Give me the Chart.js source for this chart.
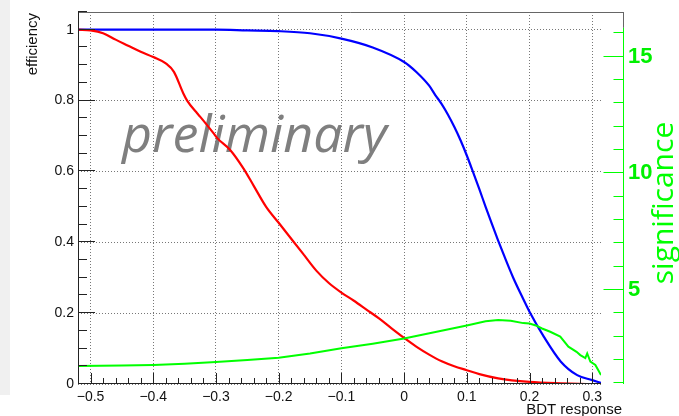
<!DOCTYPE html>
<html>
<head>
<meta charset="utf-8">
<script src="https://cdn.jsdelivr.net/npm/chart.js@4"></script>
<style>
    body { margin: 0; background: #fff; }
    canvas { display: block; }
</style>
</head>
<body>
<canvas id="chart" width="679" height="416"></canvas>
<script>
// tick labels
let xTicks = [-0.5, -0.4, -0.3, -0.2, -0.1, 0, 0.1, 0.2, 0.3];
let yTicks = [0, 0.2, 0.4, 0.6, 0.8, 1];
let sigTicks = [5, 10, 15];

// signal efficiency (blue)
let sigEffX = [-0.52, -0.3, -0.25, -0.2, -0.15, -0.1, -0.05, 0, 0.02, 0.04, 0.05, 0.06, 0.07, 0.08, 0.09, 0.1, 0.11, 0.12, 0.13, 0.14, 0.15, 0.16, 0.174, 0.19, 0.2, 0.223, 0.25, 0.276, 0.3, 0.314];
let sigEff = [1.0, 1.0, 0.998, 0.996, 0.99, 0.975, 0.95, 0.909, 0.88, 0.842, 0.815, 0.79, 0.76, 0.726, 0.688, 0.645, 0.598, 0.55, 0.5, 0.452, 0.405, 0.36, 0.3, 0.24, 0.204, 0.133, 0.063, 0.025, 0.011, 0.003];

// background efficiency (red)
let bkgEffX = [-0.52, -0.5, -0.48, -0.46, -0.44, -0.42, -0.4, -0.38, -0.367, -0.352, -0.346, -0.33, -0.325, -0.304, -0.298, -0.277, -0.256, -0.24, -0.22, -0.2, -0.18, -0.16, -0.14, -0.12, -0.1, -0.08, -0.06, -0.04, -0.02, 0, 0.02, 0.04, 0.06, 0.08, 0.1, 0.12, 0.15, 0.2, 0.25, 0.3, 0.314];
let bkgEff = [1.0, 0.998, 0.99, 0.972, 0.955, 0.938, 0.923, 0.905, 0.881, 0.82, 0.80, 0.764, 0.754, 0.708, 0.694, 0.66, 0.608, 0.56, 0.50, 0.455, 0.41, 0.365, 0.32, 0.285, 0.258, 0.235, 0.21, 0.185, 0.157, 0.13, 0.105, 0.083, 0.064, 0.05, 0.039, 0.028, 0.016, 0.006, 0.002, 0.0, 0.0];

// significance (green, right axis)
let signifX = [-0.52, -0.45, -0.4, -0.35, -0.3, -0.25, -0.2, -0.15, -0.1, -0.05, 0, 0.05, 0.1, 0.13, 0.15, 0.17, 0.19, 0.2, 0.21, 0.22, 0.233, 0.249, 0.262, 0.275, 0.281, 0.289, 0.292, 0.297, 0.305, 0.314];
let signif = [1.74, 1.76, 1.79, 1.84, 1.91, 2.0, 2.1, 2.28, 2.5, 2.7, 2.92, 3.2, 3.48, 3.66, 3.71, 3.68, 3.58, 3.56, 3.48, 3.35, 3.21, 3.0, 2.57, 2.35, 2.21, 2.08, 2.28, 1.93, 1.79, 1.36];

let green = "#00ff00";
let labelFont = { family: "'Liberation Sans', Arial, sans-serif", size: 14 };

let toPoints = function(xs, ys) {
    return xs.map(function(x, i) { return { x: x, y: ys[i] }; });
};

let fmtX = function(v) {
    if (v === 0) return "0";
    return v.toFixed(1).replace("-", "\u2212");
};

let line = function(ctx, x1, y1, x2, y2) {
    ctx.beginPath();
    ctx.moveTo(x1, y1);
    ctx.lineTo(x2, y2);
    ctx.stroke();
};

// ROOT style frame, inner ticks, green axis and titles
let rootStyle = {
    id: "rootStyle",
    beforeDraw: function(chart) {
        let ctx = chart.ctx;
        ctx.save();
        ctx.fillStyle = "#f0f0f0";
        ctx.fillRect(0, 0, 10, 395);
        ctx.restore();
    },
    beforeDatasetsDraw: function(chart) {
        let ctx = chart.ctx;
        ctx.save();
        ctx.font = "italic 52px 'Open Sans'";
        ctx.fillStyle = "#7f7f7f";
        ctx.textAlign = "left";
        ctx.textBaseline = "alphabetic";
        ctx.fillText("preliminary", 122, 152);
        ctx.restore();
    },
    afterDraw: function(chart) {
        let ctx = chart.ctx;
        let a = chart.chartArea;
        let x = chart.scales.x, y = chart.scales.y, y2 = chart.scales.y2;
        let gx = 623.5;
        ctx.save();
        ctx.lineWidth = 1;

        // frame
        ctx.strokeStyle = "#666";
        line(ctx, a.left, a.top + 0.5, gx, a.top + 0.5);
        line(ctx, gx, a.top, gx, y2.getPixelForValue(16.23));
        ctx.strokeStyle = "#222";
        line(ctx, a.left + 0.5, a.top, a.left + 0.5, a.bottom);
        line(ctx, a.left, a.bottom - 0.5, a.right, a.bottom - 0.5);

        // x ticks
        for (let i = 0; i <= 42; i++) {
            let v = Math.round((-0.52 + i * 0.02) * 100) / 100;
            if (v > 0.314) break;
            let major = xTicks.indexOf(v) >= 0;
            let px = Math.round(x.getPixelForValue(v)) + 0.5;
            line(ctx, px, a.bottom, px, a.bottom - (major ? 11 : 6));
        }
        // y ticks
        for (let i = 0; i <= 21; i++) {
            let v = Math.round(i * 5) / 100;
            let major = yTicks.indexOf(v) >= 0;
            let py = Math.round(y.getPixelForValue(v)) - 0.5;
            line(ctx, a.left, py, a.left + (major ? 17 : 9), py);
        }

        // green significance axis
        ctx.strokeStyle = green;
        line(ctx, gx, y2.getPixelForValue(16.23), gx, a.bottom);
        for (let s = 1; s <= 16; s++) {
            let py = Math.round(y2.getPixelForValue(s)) - 0.5;
            line(ctx, gx, py, gx - (s % 5 === 0 ? 20 : 10), py);
        }

        // axis titles
        ctx.fillStyle = "#111";
        ctx.font = "15px 'Liberation Sans', Arial, sans-serif";
        ctx.textAlign = "right";
        ctx.textBaseline = "alphabetic";
        ctx.fillText("BDT response", 622, 414);

        ctx.save();
        ctx.translate(37, 13);
        ctx.rotate(-Math.PI / 2);
        ctx.fillText("efficiency", 0, 0);
        ctx.restore();

        ctx.save();
        ctx.translate(673, 203);
        ctx.rotate(-Math.PI / 2);
        ctx.fillStyle = green;
        ctx.font = "30px 'Open Sans'";
        ctx.textAlign = "center";
        ctx.fillText("significance", 0, 0);
        ctx.restore();

        ctx.restore();
    }
};

let noVertPadding = function(scale) {
    scale.paddingTop = 0;
    scale.paddingBottom = 0;
};

document.addEventListener("DOMContentLoaded", function() {
    let context = document.querySelector("#chart").getContext("2d");
    new Chart(context, {
        type: "line",
        data: {
            datasets: [{
                data: toPoints(signifX, signif),
                borderColor: green,
                borderWidth: 2,
                yAxisID: "y2",
                tension: 0
            }, {
                data: toPoints(bkgEffX, bkgEff),
                borderColor: "#ff0000",
                borderWidth: 2.2,
                yAxisID: "y",
                cubicInterpolationMode: "monotone"
            }, {
                data: toPoints(sigEffX, sigEff),
                borderColor: "#0000ff",
                borderWidth: 2.2,
                yAxisID: "y",
                cubicInterpolationMode: "monotone"
            }]
        },
        options: {
            responsive: false,
            animation: false,
            devicePixelRatio: 1,
            layout: { padding: { top: 12, left: 0, right: 0, bottom: 0 } },
            elements: { point: { radius: 0 } },
            plugins: {
                legend: { display: false },
                tooltip: { enabled: false }
            },
            scales: {
                x: {
                    type: "linear",
                    min: -0.52,
                    max: 0.314,
                    afterBuildTicks: function(scale) {
                        scale.ticks = xTicks.map(function(v) { return { value: v }; });
                    },
                    afterFit: function(scale) { scale.height = 32; },
                    ticks: {
                        callback: fmtX,
                        font: labelFont,
                        color: "#111",
                        padding: 5,
                        maxRotation: 0,
                        autoSkip: false
                    },
                    grid: { color: "#777", drawTicks: false },
                    border: { display: false, dash: [1, 2] }
                },
                y: {
                    min: 0,
                    max: 1.05,
                    afterBuildTicks: function(scale) {
                        scale.ticks = yTicks.map(function(v) { return { value: v }; });
                    },
                    afterFit: function(scale) {
                        scale.width = 78;
                        noVertPadding(scale);
                    },
                    ticks: {
                        callback: function(v) { return String(v); },
                        font: labelFont,
                        color: "#111",
                        padding: 4
                    },
                    grid: { color: "#777", drawTicks: false },
                    border: { display: false, dash: [1, 2] }
                },
                y2: {
                    position: "right",
                    min: 0.971,
                    max: 16.91,
                    afterBuildTicks: function(scale) {
                        scale.ticks = sigTicks.map(function(v) { return { value: v }; });
                    },
                    afterFit: function(scale) {
                        scale.width = 78;
                        noVertPadding(scale);
                    },
                    ticks: {
                        font: { family: "'Liberation Sans', Arial, sans-serif", size: 22, weight: "bold" },
                        color: "#00f000",
                        padding: 27
                    },
                    grid: { drawOnChartArea: false, drawTicks: false },
                    border: { display: false }
                }
            }
        },
        plugins: [rootStyle]
    });
});
</script>
</body>
</html>
